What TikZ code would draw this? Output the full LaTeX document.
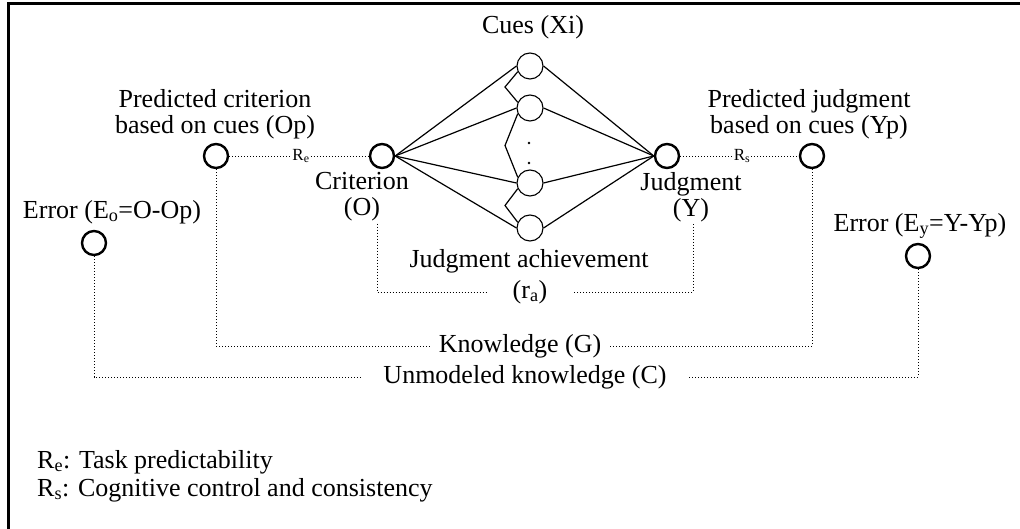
\documentclass[tikz,border=0pt]{standalone}
\usepackage{fontspec}
\setmainfont{Liberation Serif}
\usetikzlibrary{positioning, calc}

\begin{document}
\begin{tikzpicture}[x=1pt, y=-1pt,
  every node/.style={font=\fontsize{26}{26}\selectfont},
  bigdot/.style={circle, draw, line width=2.4pt, minimum size=24pt, inner sep=0pt},
  cuedot/.style={circle, draw, line width=1.1pt, minimum size=26pt, inner sep=0pt},
  lbl/.style={align=center, inner sep=2pt},
  rlbl/.style={font=\fontsize{17}{19}\selectfont, inner sep=1pt},
  legend/.style={anchor=west, inner sep=0pt},
  link/.style={line width=1.2pt},
  dotline/.style={line width=0.9pt, dash pattern=on 0.9pt off 2.1pt}
]
\useasboundingbox (0,0) rectangle (1020,529);

%% Frame (cut at right and bottom)
\draw[line width=3pt] (8,529) -- (8,4) -- (1020,4);

%% Lens model nodes
\node[bigdot] (op) at (216,156) {};
\node[bigdot] (o)  at (382,156) {};
\node[bigdot] (y)  at (667,156) {};
\node[bigdot] (yp) at (812,156) {};
\node[bigdot] (eo) at (94,243) {};
\node[bigdot] (ey) at (918,256) {};

%% Cues
\node[cuedot] (x1) at (530,66) {};
\node[cuedot] (x2) at (530,108) {};
\node[cuedot] (x3) at (530,183) {};
\node[cuedot] (x4) at (530,228) {};
\fill (529,143) circle (1.3pt) (529,163) circle (1.3pt);

%% Labels
\node[lbl] (cues) at (533,27) {Cues (Xi)};
\node[lbl] (predo) at (215,114) {Predicted criterion\\based on cues (Op)};
\node[lbl] (predy) at (809,114) {Predicted judgment\\based on cues (Yp)};
\node[lbl] (crit) at (362,197) {Criterion\\(O)};
\node[lbl] (judg) at (691,197) {Judgment\\(Y)};
\node[lbl] (erro) at (112,212) {Error (E\textsubscript{o}=O-Op)};
\node[lbl] (erry) at (920,226) {Error (E\textsubscript{y}=Y-Yp)};
\node[lbl] (ach) at (529,261) {Judgment achievement};
\node[lbl] (ra) at (530,292) {(r\textsubscript{a})};
\node[lbl, inner xsep=8pt] (know) at (520,346) {Knowledge (G)};
\node[lbl, inner xsep=22pt] (unmod) at (525,377) {Unmodeled knowledge (C)};
\node[rlbl] (re) at (301,156) {R\textsubscript{e}};
\node[rlbl] (rs) at (742,156) {R\textsubscript{s}};

%% Legend
\node[legend] (lgre) at (37,462) {R\textsubscript{e}: Task predictability};
\node[legend] (lgrs) at (37,490) {R\textsubscript{s}: Cognitive control and consistency};

%% Cue links
\foreach \c in {x1,x2,x3,x4} {
  \draw[link] (o.east) -- (\c.west);
  \draw[link] (\c.east) -- (y.west);
}
\foreach \a/\b in {x1/x2,x2/x3,x3/x4}
  \draw[link] (\a.205) -- ([xshift=-25pt]$(\a)!0.5!(\b)$) -- (\b.155);

%% Dotted correlations
\draw[dotline] (op.east) -- (re.west);
\draw[dotline] (re.east) -- (o.west);
\draw[dotline] (y.east) -- (rs.west);
\draw[dotline] (rs.east) -- (yp.west);
\draw[dotline, shorten >=24pt] ([xshift=15pt]crit.south) |- (ra.west);
\draw[dotline, shorten >=24pt] ([xshift=2pt]judg.south) |- (ra.east);
\draw[dotline] (op.south) |- (know.west);
\draw[dotline] (yp.south) |- (know.east);
\draw[dotline] (eo.south) |- (unmod.west);
\draw[dotline] (ey.south) |- (unmod.east);

\end{tikzpicture}
\end{document}
